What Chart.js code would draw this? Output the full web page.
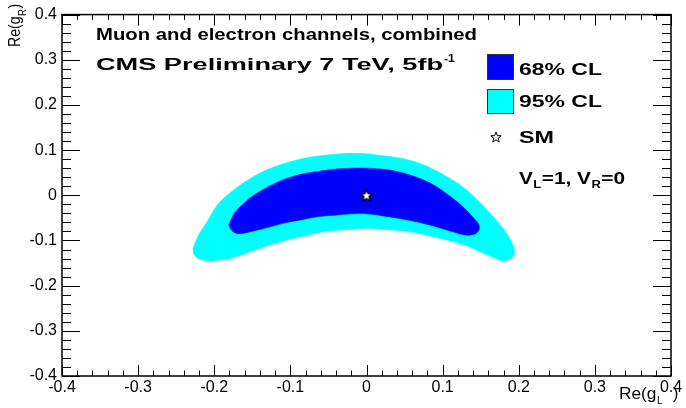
<!DOCTYPE html>
<html><head><meta charset="utf-8">
<script src="https://cdn.jsdelivr.net/npm/chart.js@4"></script>
<style>html,body{margin:0;padding:0;background:#fff}canvas{display:block}</style>
</head><body>
<canvas id="c" width="686" height="408"></canvas>
<script>
// ---- data ----
const xTickLabels = ['-0.4','-0.3','-0.2','-0.1','0','0.1','0.2','0.3','0.4'];
const yTickLabels = ['-0.4','-0.3','-0.2','-0.1','0','0.1','0.2','0.3','0.4'];
const cl95X = [-0.228,-0.224,-0.218,-0.210,-0.195,-0.173,-0.151,-0.129,-0.107,-0.085,-0.063,-0.041,-0.019,0.000,0.020,0.042,0.064,0.086,0.108,0.130,0.151,0.173,0.186,0.194,0.194,0.189,0.180,0.173,0.151,0.130,0.108,0.086,0.064,0.042,0.020,0.000,-0.019,-0.041,-0.063,-0.085,-0.107,-0.129,-0.151,-0.173,-0.195,-0.210,-0.221,-0.227];
const cl95Y = [-0.118,-0.100,-0.080,-0.060,-0.019,0.014,0.039,0.058,0.071,0.081,0.087,0.091,0.093,0.092,0.088,0.083,0.074,0.059,0.039,0.014,-0.019,-0.060,-0.089,-0.118,-0.132,-0.141,-0.145,-0.142,-0.126,-0.111,-0.100,-0.091,-0.083,-0.078,-0.075,-0.073,-0.075,-0.078,-0.083,-0.091,-0.100,-0.111,-0.124,-0.137,-0.144,-0.145,-0.140,-0.130];
const cl68X = [-0.181,-0.177,-0.173,-0.160,-0.151,-0.129,-0.107,-0.085,-0.063,-0.041,-0.019,0.000,0.020,0.042,0.064,0.086,0.108,0.125,0.138,0.147,0.148,0.143,0.130,0.108,0.086,0.064,0.042,0.020,0.000,-0.019,-0.041,-0.063,-0.085,-0.107,-0.129,-0.151,-0.169,-0.177];
const cl68Y = [-0.065,-0.050,-0.038,-0.016,-0.003,0.019,0.036,0.047,0.053,0.058,0.060,0.060,0.058,0.052,0.041,0.025,0.000,-0.023,-0.045,-0.063,-0.075,-0.085,-0.088,-0.078,-0.067,-0.058,-0.051,-0.045,-0.041,-0.041,-0.044,-0.047,-0.054,-0.061,-0.071,-0.080,-0.085,-0.078];
const smX = [0];
const smY = [0];

const closed = (xs, ys) => { const p = xs.map((x, i) => ({x: x, y: ys[i]})); p.push({x: xs[0], y: ys[0]}); return p; };
const pts = (xs, ys) => xs.map((x, i) => ({x: x, y: ys[i]}));

function starPath(ctx, cx, cy, R, r) {
  ctx.beginPath();
  for (let k = 0; k < 10; k++) {
    const rad = k % 2 === 0 ? R : r;
    const a = -Math.PI / 2 + k * Math.PI / 5;
    const px = cx + rad * Math.cos(a), py = cy + rad * Math.sin(a);
    if (k === 0) ctx.moveTo(px, py); else ctx.lineTo(px, py);
  }
  ctx.closePath();
}
const starImg = document.createElement('canvas');
starImg.width = 16; starImg.height = 16;
(function () {
  const g = starImg.getContext('2d');
  starPath(g, 8, 8.5, 6.5, 2.7);
  g.fillStyle = '#fff'; g.fill();
  g.lineWidth = 1.3; g.strokeStyle = '#000'; g.stroke();
})();

function stx(ctx, txt, x, y, font, sx) {
  ctx.save(); ctx.font = font;
  const m = ctx.measureText(txt).width;
  ctx.translate(x, y); ctx.scale(sx, 1); ctx.fillText(txt, 0, 0);
  ctx.restore();
  return x + m * sx;
}
function stw(ctx, txt, x, y, font, w) {
  ctx.save(); ctx.font = font;
  const m = ctx.measureText(txt).width;
  ctx.restore();
  return stx(ctx, txt, x, y, font, w / m);
}

const decor = {
  id: 'decor',
  beforeDraw(chart) {
    const ctx = chart.ctx;
    ctx.save(); ctx.fillStyle = '#fff'; ctx.fillRect(0, 0, chart.width, chart.height); ctx.restore();
  },
  afterDraw(chart) {
    const ctx = chart.ctx, a = chart.chartArea, xs = chart.scales.x, ys = chart.scales.y;
    ctx.save();
    ctx.strokeStyle = '#000'; ctx.lineWidth = 1;
    ctx.beginPath();
    for (let i = -20; i <= 20; i++) {
      const p = Math.round(xs.getPixelForValue(i * 0.02)) + 0.5;
      const L = i % 5 === 0 ? 11 : 5.5;
      ctx.moveTo(p, a.bottom); ctx.lineTo(p, a.bottom - L);
      ctx.moveTo(p, a.top); ctx.lineTo(p, a.top + L);
    }
    for (let i = -20; i <= 20; i++) {
      const p = Math.round(ys.getPixelForValue(i * 0.02)) + 0.5;
      const L = i % 5 === 0 ? 18 : 9;
      ctx.moveTo(a.left, p); ctx.lineTo(a.left + L, p);
      ctx.moveTo(a.right, p); ctx.lineTo(a.right - L, p);
    }
    ctx.stroke();
    ctx.lineWidth = 1.5;
    ctx.strokeRect(a.left, a.top, a.right - a.left, a.bottom - a.top);

    ctx.fillStyle = '#000'; ctx.textBaseline = 'alphabetic'; ctx.textAlign = 'left';
    const B = 'bold 16px "Liberation Sans", Arial, sans-serif';
    stw(ctx, 'Muon and electron channels, combined', 96, 40, B, 381);
    stw(ctx, 'CMS Preliminary 7 TeV, 5fb', 96, 70, B, 347);
    stx(ctx, '-1', 444, 62, 'bold 11px "Liberation Sans", Arial, sans-serif', 1.1);

    // legend
    ctx.lineWidth = 1; ctx.strokeStyle = '#333';
    ctx.fillStyle = '#0000ff'; ctx.fillRect(487, 54, 27, 26); ctx.strokeRect(487.5, 54.5, 26, 25);
    ctx.fillStyle = '#00ffff'; ctx.fillRect(487, 89, 27, 25); ctx.strokeRect(487.5, 89.5, 26, 24);
    ctx.fillStyle = '#000';
    const LB = 'bold 17px "Liberation Sans", Arial, sans-serif';
    stw(ctx, '68% CL', 519, 75, LB, 83);
    stw(ctx, '95% CL', 519, 107, LB, 83);
    stw(ctx, 'SM', 519, 143, LB, 35);
    starPath(ctx, 496, 137.5, 5.5, 2.3);
    ctx.fillStyle = '#fff'; ctx.fill(); ctx.strokeStyle = '#000'; ctx.lineWidth = 1; ctx.stroke();
    ctx.fillStyle = '#000';

    // V_L=1, V_R=0
    const VB = 'bold 16px "Liberation Sans", Arial, sans-serif';
    const SB = 'bold 10px "Liberation Sans", Arial, sans-serif';
    let x = 519;
    x = stx(ctx, 'V', x, 184, VB, 1.3);
    x = stx(ctx, 'L', x + 0.5, 188, SB, 1.3);
    x = stx(ctx, '=1, V', x + 0.5, 184, VB, 1.3);
    x = stx(ctx, 'R', x + 0.5, 188, SB, 1.3);
    x = stx(ctx, '=0', x + 0.5, 184, VB, 1.3);

    // axis titles
    const T = '16px "Liberation Sans", Arial, sans-serif';
    const TS = '10px "Liberation Sans", Arial, sans-serif';
    x = stx(ctx, 'Re(g', 619, 399, T, 1.08);
    stx(ctx, 'L', x + 0.5, 404, TS, 1.0);
    stx(ctx, ')', 673, 399, T, 1.0);

    ctx.save();
    ctx.translate(20, 47); ctx.rotate(-Math.PI / 2);
    let t = stx(ctx, 'Re(g', 0, 0, T, 0.88);
    t = stx(ctx, 'R', t + 0.5, 6, TS, 0.95);
    stx(ctx, ')', t + 0.5, 0, T, 0.88);
    ctx.restore();
    ctx.restore();
  }
};

const tickFont = {family: '"Liberation Sans", Arial, sans-serif', size: 16};
new Chart(document.getElementById('c'), {
  type: 'line',
  data: {
    datasets: [
      {label: 'SM', data: pts(smX, smY), showLine: false, pointStyle: starImg, pointRadius: 8, order: 0},
      {label: '68% CL', data: closed(cl68X, cl68Y), backgroundColor: '#0000ff', borderColor: '#0000ff', borderWidth: 0.5, fill: 'shape', pointRadius: 0, tension: 0.35, order: 1},
      {label: '95% CL', data: closed(cl95X, cl95Y), backgroundColor: '#00ffff', borderColor: '#00ffff', borderWidth: 0.5, fill: 'shape', pointRadius: 0, tension: 0.35, order: 2}
    ]
  },
  options: {
    responsive: false, animation: false, devicePixelRatio: 1, events: [],
    layout: {padding: {top: 13, right: 15, bottom: 0, left: 0}},
    plugins: {legend: {display: false}, tooltip: {enabled: false}},
    scales: {
      x: {
        type: 'linear', min: -0.4, max: 0.4,
        grid: {display: false, drawTicks: false}, border: {display: false},
        ticks: {stepSize: 0.1, autoSkip: false, maxRotation: 0, padding: 2, color: '#000', font: tickFont,
          callback: (v) => xTickLabels[Math.round((v + 0.4) / 0.1)]},
        afterFit: (s) => { s.height = 32; }
      },
      y: {
        type: 'linear', min: -0.4, max: 0.4,
        grid: {display: false, drawTicks: false}, border: {display: false},
        ticks: {stepSize: 0.1, autoSkip: false, padding: 5, color: '#000', font: tickFont,
          callback: (v) => yTickLabels[Math.round((v + 0.4) / 0.1)]},
        afterFit: (s) => { s.width = 62; }
      }
    }
  },
  plugins: [decor]
});
</script>
</body></html>
